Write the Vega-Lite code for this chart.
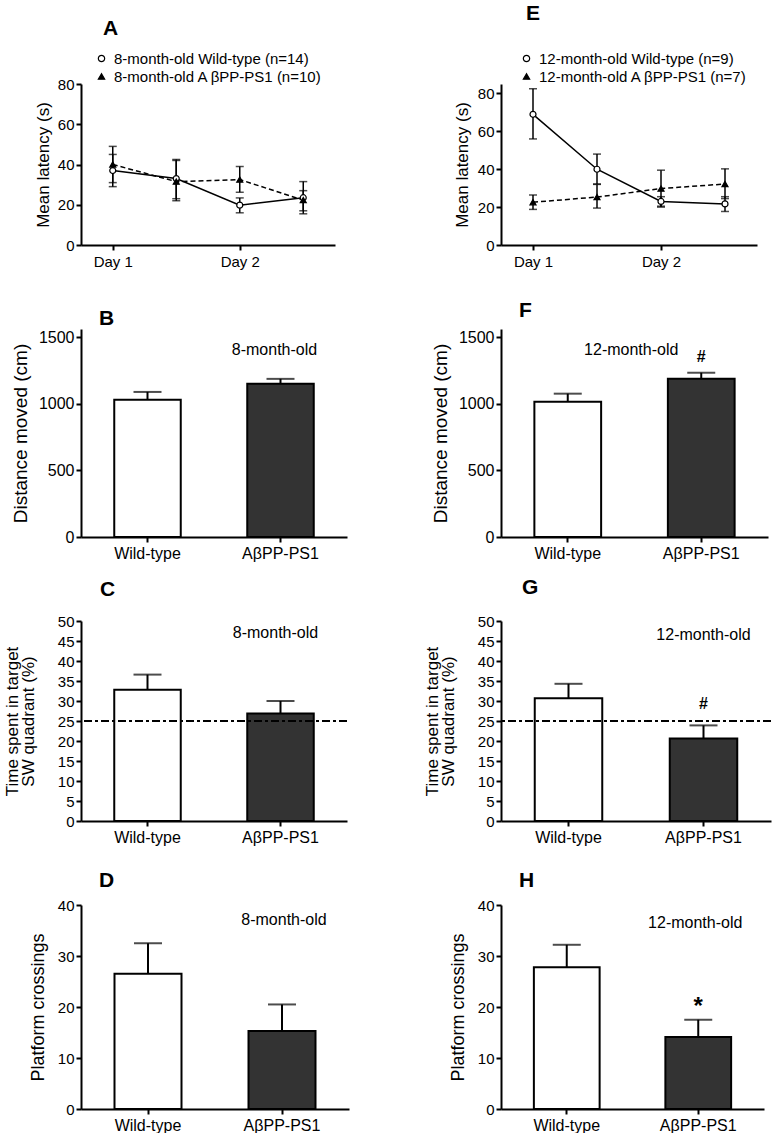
{
  "$schema": "https://vega.github.io/schema/vega-lite/v6.json",
  "background": "white",
  "padding": {"left": 3, "top": 3, "right": 0, "bottom": 0},
  "columns": 2,
  "bounds": "flush",
  "align": "each",
  "spacing": {"row": 84, "column": 152},
  "datasets": {
    "latency": [
      {"panel": "A", "group": "8-month-old Wild-type (n=14)", "day": 1, "mean": 37, "lo": 29, "hi": 45},
      {"panel": "A", "group": "8-month-old Wild-type (n=14)", "day": 1.5, "mean": 33, "lo": 23, "hi": 42.5},
      {"panel": "A", "group": "8-month-old Wild-type (n=14)", "day": 2, "mean": 19.8, "lo": 16, "hi": 23.4},
      {"panel": "A", "group": "8-month-old Wild-type (n=14)", "day": 2.5, "mean": 23.5, "lo": 15.5, "hi": 31.5},
      {"panel": "A", "group": "8-month-old A βPP-PS1 (n=10)", "day": 1, "mean": 40, "lo": 31, "hi": 49},
      {"panel": "A", "group": "8-month-old A βPP-PS1 (n=10)", "day": 1.5, "mean": 31.5, "lo": 22, "hi": 42},
      {"panel": "A", "group": "8-month-old A βPP-PS1 (n=10)", "day": 2, "mean": 32.5, "lo": 26.2, "hi": 39},
      {"panel": "A", "group": "8-month-old A βPP-PS1 (n=10)", "day": 2.5, "mean": 22.3, "lo": 17, "hi": 27},
      {"panel": "E", "group": "12-month-old Wild-type (n=9)", "day": 1, "mean": 69, "lo": 56, "hi": 82.5},
      {"panel": "E", "group": "12-month-old Wild-type (n=9)", "day": 1.5, "mean": 40, "lo": 32.2, "hi": 48},
      {"panel": "E", "group": "12-month-old Wild-type (n=9)", "day": 2, "mean": 23, "lo": 20.5, "hi": 25.5},
      {"panel": "E", "group": "12-month-old Wild-type (n=9)", "day": 2.5, "mean": 21.7, "lo": 17.7, "hi": 25.5},
      {"panel": "E", "group": "12-month-old A βPP-PS1 (n=7)", "day": 1, "mean": 22.6, "lo": 18.8, "hi": 26.4},
      {"panel": "E", "group": "12-month-old A βPP-PS1 (n=7)", "day": 1.5, "mean": 25.3, "lo": 19.5, "hi": 32},
      {"panel": "E", "group": "12-month-old A βPP-PS1 (n=7)", "day": 2, "mean": 29.8, "lo": 20, "hi": 39.5},
      {"panel": "E", "group": "12-month-old A βPP-PS1 (n=7)", "day": 2.5, "mean": 32.2, "lo": 24.5, "hi": 40.2}
    ],
    "bars": [
      {"panel": "B", "genotype": "Wild-type", "mean": 1030, "upper": 1088},
      {"panel": "B", "genotype": "AβPP-PS1", "mean": 1149, "upper": 1186},
      {"panel": "F", "genotype": "Wild-type", "mean": 1015, "upper": 1075},
      {"panel": "F", "genotype": "AβPP-PS1", "mean": 1186, "upper": 1232},
      {"panel": "C", "genotype": "Wild-type", "mean": 32.8, "upper": 36.6},
      {"panel": "C", "genotype": "AβPP-PS1", "mean": 26.9, "upper": 30},
      {"panel": "G", "genotype": "Wild-type", "mean": 30.7, "upper": 34.3},
      {"panel": "G", "genotype": "AβPP-PS1", "mean": 20.6, "upper": 23.9},
      {"panel": "D", "genotype": "Wild-type", "mean": 26.5, "upper": 32.5},
      {"panel": "D", "genotype": "AβPP-PS1", "mean": 15.3, "upper": 20.5},
      {"panel": "H", "genotype": "Wild-type", "mean": 27.8, "upper": 32.2},
      {"panel": "H", "genotype": "AβPP-PS1", "mean": 14.1, "upper": 17.5}
    ]
  },
  "concat": [
    {
      "width": 254, "height": 161,
      "title": {"text": "A", "offset": 12, "dx": 22},
      "data": {"name": "latency"},
      "transform": [{"filter": "datum.panel === 'A'"}],
      "encoding": {
        "x": {"field": "day", "type": "quantitative", "scale": {"domain": [0.75, 2.75], "nice": false, "zero": false}, "axis": {"values": [1, 2], "labelExpr": "'Day ' + datum.value", "title": null, "labelPadding": 4}}
      },
      "layer": [
        {"transform": [{"filter": "indexof(datum.group, 'Wild') >= 0"}],
         "mark": {"type": "line", "color": "black", "strokeWidth": 1.5},
         "encoding": {"y": {"field": "mean", "type": "quantitative", "scale": {"domain": [0, 80], "nice": false}, "axis": {"values": [0, 20, 40, 60, 80], "title": "Mean latency (s)", "titlePadding": 5}}}},
        {"transform": [{"filter": "indexof(datum.group, 'Wild') < 0"}],
         "mark": {"type": "line", "color": "black", "strokeWidth": 1.5, "strokeDash": [5, 3]},
         "encoding": {"y": {"field": "mean", "type": "quantitative", "scale": {"domain": [0, 80], "nice": false}, "axis": {"values": [0, 20, 40, 60, 80], "title": "Mean latency (s)", "titlePadding": 5}}}},
        {"mark": {"type": "rule", "color": "black", "strokeWidth": 1.5},
         "encoding": {"y": {"field": "lo", "type": "quantitative", "scale": {"domain": [0, 80], "nice": false}, "axis": {"values": [0, 20, 40, 60, 80], "title": "Mean latency (s)", "titlePadding": 5}}, "y2": {"field": "hi"}}},
        {"mark": {"type": "tick", "color": "black", "size": 8, "thickness": 1.5, "orient": "horizontal"},
         "encoding": {"y": {"field": "lo", "type": "quantitative", "scale": {"domain": [0, 80], "nice": false}, "axis": {"values": [0, 20, 40, 60, 80], "title": "Mean latency (s)", "titlePadding": 5}}}},
        {"mark": {"type": "tick", "color": "black", "size": 8, "thickness": 1.5, "orient": "horizontal"},
         "encoding": {"y": {"field": "hi", "type": "quantitative", "scale": {"domain": [0, 80], "nice": false}, "axis": {"values": [0, 20, 40, 60, 80], "title": "Mean latency (s)", "titlePadding": 5}}}},
        {"mark": {"type": "point", "filled": true, "strokeWidth": 1.2, "opacity": 1, "size": 36},
         "encoding": {
           "y": {"field": "mean", "type": "quantitative", "scale": {"domain": [0, 80], "nice": false}, "axis": {"values": [0, 20, 40, 60, 80], "title": "Mean latency (s)", "titlePadding": 5}},
           "shape": {"field": "group", "type": "nominal", "scale": {"domain": ["8-month-old Wild-type (n=14)", "8-month-old A βPP-PS1 (n=10)"], "range": ["circle", "triangle-up"]},
                     "legend": {"orient": "none", "legendX": 13, "legendY": -33, "title": null, "labelLimit": 400, "labelOffset": 5, "symbolSize": 40, "symbolStrokeWidth": 1.2}},
           "fill": {"field": "group", "type": "nominal", "scale": {"domain": ["8-month-old Wild-type (n=14)", "8-month-old A βPP-PS1 (n=10)"], "range": ["white", "black"]},
                    "legend": {"orient": "none", "legendX": 13, "legendY": -33, "title": null, "labelLimit": 400, "labelOffset": 5, "symbolSize": 40, "symbolStrokeWidth": 1.2}},
           "stroke": {"field": "group", "type": "nominal", "scale": {"domain": ["8-month-old Wild-type (n=14)", "8-month-old A βPP-PS1 (n=10)"], "range": ["black", "black"]},
                      "legend": {"orient": "none", "legendX": 13, "legendY": -33, "title": null, "labelLimit": 400, "labelOffset": 5, "symbolSize": 40, "symbolStrokeWidth": 1.2}}}}
      ]
    },
    {
      "width": 256, "height": 161,
      "title": {"text": "E", "offset": 27, "dx": 25},
      "data": {"name": "latency"},
      "transform": [{"filter": "datum.panel === 'E'"}],
      "encoding": {
        "x": {"field": "day", "type": "quantitative", "scale": {"domain": [0.75, 2.75], "nice": false, "zero": false}, "axis": {"values": [1, 2], "labelExpr": "'Day ' + datum.value", "title": null, "labelPadding": 4}}
      },
      "layer": [
        {"transform": [{"filter": "indexof(datum.group, 'Wild') >= 0"}],
         "mark": {"type": "line", "color": "black", "strokeWidth": 1.5},
         "encoding": {"y": {"field": "mean", "type": "quantitative", "scale": {"domain": [0, 85], "nice": false}, "axis": {"values": [0, 20, 40, 60, 80], "title": "Mean latency (s)", "titlePadding": 6}}}},
        {"transform": [{"filter": "indexof(datum.group, 'Wild') < 0"}],
         "mark": {"type": "line", "color": "black", "strokeWidth": 1.5, "strokeDash": [5, 3]},
         "encoding": {"y": {"field": "mean", "type": "quantitative", "scale": {"domain": [0, 85], "nice": false}, "axis": {"values": [0, 20, 40, 60, 80], "title": "Mean latency (s)", "titlePadding": 6}}}},
        {"mark": {"type": "rule", "color": "black", "strokeWidth": 1.5},
         "encoding": {"y": {"field": "lo", "type": "quantitative", "scale": {"domain": [0, 85], "nice": false}, "axis": {"values": [0, 20, 40, 60, 80], "title": "Mean latency (s)", "titlePadding": 6}}, "y2": {"field": "hi"}}},
        {"mark": {"type": "tick", "color": "black", "size": 8, "thickness": 1.5, "orient": "horizontal"},
         "encoding": {"y": {"field": "lo", "type": "quantitative", "scale": {"domain": [0, 85], "nice": false}, "axis": {"values": [0, 20, 40, 60, 80], "title": "Mean latency (s)", "titlePadding": 6}}}},
        {"mark": {"type": "tick", "color": "black", "size": 8, "thickness": 1.5, "orient": "horizontal"},
         "encoding": {"y": {"field": "hi", "type": "quantitative", "scale": {"domain": [0, 85], "nice": false}, "axis": {"values": [0, 20, 40, 60, 80], "title": "Mean latency (s)", "titlePadding": 6}}}},
        {"mark": {"type": "point", "filled": true, "strokeWidth": 1.2, "opacity": 1, "size": 36},
         "encoding": {
           "y": {"field": "mean", "type": "quantitative", "scale": {"domain": [0, 85], "nice": false}, "axis": {"values": [0, 20, 40, 60, 80], "title": "Mean latency (s)", "titlePadding": 6}},
           "shape": {"field": "group", "type": "nominal", "scale": {"domain": ["12-month-old Wild-type (n=9)", "12-month-old A βPP-PS1 (n=7)"], "range": ["circle", "triangle-up"]},
                     "legend": {"orient": "none", "legendX": 18, "legendY": -33, "title": null, "labelLimit": 400, "labelOffset": 5, "symbolSize": 40, "symbolStrokeWidth": 1.2}},
           "fill": {"field": "group", "type": "nominal", "scale": {"domain": ["12-month-old Wild-type (n=9)", "12-month-old A βPP-PS1 (n=7)"], "range": ["white", "black"]},
                    "legend": {"orient": "none", "legendX": 18, "legendY": -33, "title": null, "labelLimit": 400, "labelOffset": 5, "symbolSize": 40, "symbolStrokeWidth": 1.2}},
           "stroke": {"field": "group", "type": "nominal", "scale": {"domain": ["12-month-old Wild-type (n=9)", "12-month-old A βPP-PS1 (n=7)"], "range": ["black", "black"]},
                      "legend": {"orient": "none", "legendX": 18, "legendY": -33, "title": null, "labelLimit": 400, "labelOffset": 5, "symbolSize": 40, "symbolStrokeWidth": 1.2}}}}
      ]
    },
    {
      "width": 266, "height": 208,
      "title": {"text": "B", "offset": 0, "dx": 18},
      "data": {"name": "bars"},
      "transform": [{"filter": "datum.panel === 'B'"}],
      "encoding": {
        "x": {"field": "genotype", "type": "nominal", "sort": ["Wild-type", "AβPP-PS1"], "scale": {"domain": ["Wild-type", "AβPP-PS1"], "paddingInner": 0.5, "paddingOuter": 0.25}, "axis": {"title": null, "labelAngle": 0, "labelFontSize": 16, "labelPadding": 3, "bandPosition": 0.5}}
      },
      "layer": [
        {"mark": {"type": "bar", "stroke": "black", "strokeWidth": 2},
         "encoding": {
           "y": {"field": "mean", "type": "quantitative", "scale": {"domain": [0, 1560], "nice": false}, "axis": {"values": [0, 500, 1000, 1500], "format": "d", "title": "Distance moved (cm)", "titleFontSize": 19, "titlePadding": 8, "labelFontSize": 16}},
           "fill": {"field": "genotype", "type": "nominal", "scale": {"domain": ["Wild-type", "AβPP-PS1"], "range": ["white", "#333333"]}, "legend": null}}},
        {"mark": {"type": "rule", "color": "black", "strokeWidth": 2},
         "encoding": {"y": {"field": "mean", "type": "quantitative", "scale": {"domain": [0, 1560], "nice": false}, "axis": {"values": [0, 500, 1000, 1500], "format": "d", "title": "Distance moved (cm)", "titleFontSize": 19, "titlePadding": 8, "labelFontSize": 16}}, "y2": {"field": "upper"}}},
        {"mark": {"type": "tick", "color": "black", "size": 28, "thickness": 2, "orient": "horizontal"},
         "encoding": {"y": {"field": "upper", "type": "quantitative", "scale": {"domain": [0, 1560], "nice": false}, "axis": {"values": [0, 500, 1000, 1500], "format": "d", "title": "Distance moved (cm)", "titleFontSize": 19, "titlePadding": 8, "labelFontSize": 16}}}},
        {"transform": [{"filter": "datum.genotype === 'AβPP-PS1'"}],
         "mark": {"type": "text", "fontSize": 16, "fontWeight": "normal", "baseline": "middle", "dx": -6, "fill": "black"},
         "encoding": {"y": {"datum": 1400}, "text": {"value": "8-month-old"}}}
      ]
    },
    {
      "width": 267, "height": 208,
      "title": {"text": "F", "offset": 8, "dx": 18},
      "data": {"name": "bars"},
      "transform": [{"filter": "datum.panel === 'F'"}],
      "encoding": {
        "x": {"field": "genotype", "type": "nominal", "sort": ["Wild-type", "AβPP-PS1"], "scale": {"domain": ["Wild-type", "AβPP-PS1"], "paddingInner": 0.5, "paddingOuter": 0.25}, "axis": {"title": null, "labelAngle": 0, "labelFontSize": 16, "labelPadding": 3, "bandPosition": 0.5}}
      },
      "layer": [
        {"mark": {"type": "bar", "stroke": "black", "strokeWidth": 2},
         "encoding": {
           "y": {"field": "mean", "type": "quantitative", "scale": {"domain": [0, 1560], "nice": false}, "axis": {"values": [0, 500, 1000, 1500], "format": "d", "title": "Distance moved (cm)", "titleFontSize": 19, "titlePadding": 8, "labelFontSize": 16}},
           "fill": {"field": "genotype", "type": "nominal", "scale": {"domain": ["Wild-type", "AβPP-PS1"], "range": ["white", "#333333"]}, "legend": null}}},
        {"mark": {"type": "rule", "color": "black", "strokeWidth": 2},
         "encoding": {"y": {"field": "mean", "type": "quantitative", "scale": {"domain": [0, 1560], "nice": false}, "axis": {"values": [0, 500, 1000, 1500], "format": "d", "title": "Distance moved (cm)", "titleFontSize": 19, "titlePadding": 8, "labelFontSize": 16}}, "y2": {"field": "upper"}}},
        {"mark": {"type": "tick", "color": "black", "size": 28, "thickness": 2, "orient": "horizontal"},
         "encoding": {"y": {"field": "upper", "type": "quantitative", "scale": {"domain": [0, 1560], "nice": false}, "axis": {"values": [0, 500, 1000, 1500], "format": "d", "title": "Distance moved (cm)", "titleFontSize": 19, "titlePadding": 8, "labelFontSize": 16}}}},
        {"transform": [{"filter": "datum.genotype === 'AβPP-PS1'"}],
         "mark": {"type": "text", "fontSize": 16, "fontWeight": "normal", "baseline": "middle", "dx": -70, "fill": "black"},
         "encoding": {"y": {"datum": 1400}, "text": {"value": "12-month-old"}}},
        {"transform": [{"filter": "datum.genotype === 'AβPP-PS1'"}],
         "mark": {"type": "text", "fontSize": 16, "fontWeight": "bold", "baseline": "alphabetic", "fill": "black"},
         "encoding": {"y": {"datum": 1315}, "text": {"value": "#"}}}
      ]
    },
    {
      "width": 266, "height": 200,
      "title": {"text": "C", "offset": 14, "dx": 19},
      "data": {"name": "bars"},
      "transform": [{"filter": "datum.panel === 'C'"}],
      "layer": [
        {"mark": {"type": "bar", "stroke": "black", "strokeWidth": 2},
         "encoding": {
           "x": {"field": "genotype", "type": "nominal", "sort": ["Wild-type", "AβPP-PS1"], "scale": {"domain": ["Wild-type", "AβPP-PS1"], "paddingInner": 0.5, "paddingOuter": 0.25}, "axis": {"title": null, "labelAngle": 0, "labelFontSize": 16, "labelPadding": 3, "bandPosition": 0.5}},
           "y": {"field": "mean", "type": "quantitative", "scale": {"domain": [0, 50], "nice": false}, "axis": {"values": [0, 5, 10, 15, 20, 25, 30, 35, 40, 45, 50], "tickCount": 11, "labelOverlap": false, "title": ["Time spent in target", "SW quadrant (%)"], "titleLineHeight": 16, "titleFontSize": 17, "titlePadding": 20}},
           "fill": {"field": "genotype", "type": "nominal", "scale": {"domain": ["Wild-type", "AβPP-PS1"], "range": ["white", "#333333"]}, "legend": null}}},
        {"mark": {"type": "rule", "color": "black", "strokeWidth": 2},
         "encoding": {
           "x": {"field": "genotype", "type": "nominal", "sort": ["Wild-type", "AβPP-PS1"], "scale": {"domain": ["Wild-type", "AβPP-PS1"], "paddingInner": 0.5, "paddingOuter": 0.25}, "axis": {"title": null, "labelAngle": 0, "labelFontSize": 16, "labelPadding": 3, "bandPosition": 0.5}},
           "y": {"field": "mean", "type": "quantitative", "scale": {"domain": [0, 50], "nice": false}, "axis": {"values": [0, 5, 10, 15, 20, 25, 30, 35, 40, 45, 50], "tickCount": 11, "labelOverlap": false, "title": ["Time spent in target", "SW quadrant (%)"], "titleLineHeight": 16, "titleFontSize": 17, "titlePadding": 20}}, "y2": {"field": "upper"}}},
        {"mark": {"type": "tick", "color": "black", "size": 28, "thickness": 2, "orient": "horizontal"},
         "encoding": {
           "x": {"field": "genotype", "type": "nominal", "sort": ["Wild-type", "AβPP-PS1"], "scale": {"domain": ["Wild-type", "AβPP-PS1"], "paddingInner": 0.5, "paddingOuter": 0.25}, "axis": {"title": null, "labelAngle": 0, "labelFontSize": 16, "labelPadding": 3, "bandPosition": 0.5}},
           "y": {"field": "upper", "type": "quantitative", "scale": {"domain": [0, 50], "nice": false}, "axis": {"values": [0, 5, 10, 15, 20, 25, 30, 35, 40, 45, 50], "tickCount": 11, "labelOverlap": false, "title": ["Time spent in target", "SW quadrant (%)"], "titleLineHeight": 16, "titleFontSize": 17, "titlePadding": 20}}}},
        {"transform": [{"filter": "datum.genotype === 'AβPP-PS1'"}],
         "mark": {"type": "rule", "color": "black", "strokeWidth": 2, "strokeDash": [8, 3, 3, 3]},
         "encoding": {"y": {"datum": 25}}},
        {"transform": [{"filter": "datum.genotype === 'AβPP-PS1'"}],
         "mark": {"type": "text", "fontSize": 16, "fontWeight": "normal", "baseline": "middle", "dx": -5, "fill": "black"},
         "encoding": {
           "x": {"field": "genotype", "type": "nominal", "sort": ["Wild-type", "AβPP-PS1"], "scale": {"domain": ["Wild-type", "AβPP-PS1"], "paddingInner": 0.5, "paddingOuter": 0.25}, "axis": {"title": null, "labelAngle": 0, "labelFontSize": 16, "labelPadding": 3, "bandPosition": 0.5}},
           "y": {"datum": 47}, "text": {"value": "8-month-old"}}}
      ]
    },
    {
      "width": 270, "height": 200,
      "title": {"text": "G", "offset": 16, "dx": 21},
      "data": {"name": "bars"},
      "transform": [{"filter": "datum.panel === 'G'"}],
      "layer": [
        {"mark": {"type": "bar", "stroke": "black", "strokeWidth": 2},
         "encoding": {
           "x": {"field": "genotype", "type": "nominal", "sort": ["Wild-type", "AβPP-PS1"], "scale": {"domain": ["Wild-type", "AβPP-PS1"], "paddingInner": 0.5, "paddingOuter": 0.25}, "axis": {"title": null, "labelAngle": 0, "labelFontSize": 16, "labelPadding": 3, "bandPosition": 0.5}},
           "y": {"field": "mean", "type": "quantitative", "scale": {"domain": [0, 50], "nice": false}, "axis": {"values": [0, 5, 10, 15, 20, 25, 30, 35, 40, 45, 50], "tickCount": 11, "labelOverlap": false, "title": ["Time spent in target", "SW quadrant (%)"], "titleLineHeight": 16, "titleFontSize": 17, "titlePadding": 20}},
           "fill": {"field": "genotype", "type": "nominal", "scale": {"domain": ["Wild-type", "AβPP-PS1"], "range": ["white", "#333333"]}, "legend": null}}},
        {"mark": {"type": "rule", "color": "black", "strokeWidth": 2},
         "encoding": {
           "x": {"field": "genotype", "type": "nominal", "sort": ["Wild-type", "AβPP-PS1"], "scale": {"domain": ["Wild-type", "AβPP-PS1"], "paddingInner": 0.5, "paddingOuter": 0.25}, "axis": {"title": null, "labelAngle": 0, "labelFontSize": 16, "labelPadding": 3, "bandPosition": 0.5}},
           "y": {"field": "mean", "type": "quantitative", "scale": {"domain": [0, 50], "nice": false}, "axis": {"values": [0, 5, 10, 15, 20, 25, 30, 35, 40, 45, 50], "tickCount": 11, "labelOverlap": false, "title": ["Time spent in target", "SW quadrant (%)"], "titleLineHeight": 16, "titleFontSize": 17, "titlePadding": 20}}, "y2": {"field": "upper"}}},
        {"mark": {"type": "tick", "color": "black", "size": 28, "thickness": 2, "orient": "horizontal"},
         "encoding": {
           "x": {"field": "genotype", "type": "nominal", "sort": ["Wild-type", "AβPP-PS1"], "scale": {"domain": ["Wild-type", "AβPP-PS1"], "paddingInner": 0.5, "paddingOuter": 0.25}, "axis": {"title": null, "labelAngle": 0, "labelFontSize": 16, "labelPadding": 3, "bandPosition": 0.5}},
           "y": {"field": "upper", "type": "quantitative", "scale": {"domain": [0, 50], "nice": false}, "axis": {"values": [0, 5, 10, 15, 20, 25, 30, 35, 40, 45, 50], "tickCount": 11, "labelOverlap": false, "title": ["Time spent in target", "SW quadrant (%)"], "titleLineHeight": 16, "titleFontSize": 17, "titlePadding": 20}}}},
        {"transform": [{"filter": "datum.genotype === 'AβPP-PS1'"}],
         "mark": {"type": "rule", "color": "black", "strokeWidth": 2, "strokeDash": [8, 3, 3, 3]},
         "encoding": {"y": {"datum": 25}}},
        {"transform": [{"filter": "datum.genotype === 'AβPP-PS1'"}],
         "mark": {"type": "text", "fontSize": 16, "fontWeight": "normal", "baseline": "middle", "fill": "black"},
         "encoding": {
           "x": {"field": "genotype", "type": "nominal", "sort": ["Wild-type", "AβPP-PS1"], "scale": {"domain": ["Wild-type", "AβPP-PS1"], "paddingInner": 0.5, "paddingOuter": 0.25}, "axis": {"title": null, "labelAngle": 0, "labelFontSize": 16, "labelPadding": 3, "bandPosition": 0.5}},
           "y": {"datum": 46.5}, "text": {"value": "12-month-old"}}},
        {"transform": [{"filter": "datum.genotype === 'AβPP-PS1'"}],
         "mark": {"type": "text", "fontSize": 16, "fontWeight": "bold", "baseline": "alphabetic", "fill": "black"},
         "encoding": {
           "x": {"field": "genotype", "type": "nominal", "sort": ["Wild-type", "AβPP-PS1"], "scale": {"domain": ["Wild-type", "AβPP-PS1"], "paddingInner": 0.5, "paddingOuter": 0.25}, "axis": {"title": null, "labelAngle": 0, "labelFontSize": 16, "labelPadding": 3, "bandPosition": 0.5}},
           "y": {"datum": 28}, "text": {"value": "#"}}}
      ]
    },
    {
      "width": 268, "height": 204,
      "title": {"text": "D", "offset": 7, "dx": 18},
      "data": {"name": "bars"},
      "transform": [{"filter": "datum.panel === 'D'"}],
      "encoding": {
        "x": {"field": "genotype", "type": "nominal", "sort": ["Wild-type", "AβPP-PS1"], "scale": {"domain": ["Wild-type", "AβPP-PS1"], "paddingInner": 0.5, "paddingOuter": 0.25}, "axis": {"title": null, "labelAngle": 0, "labelFontSize": 16, "labelPadding": 3, "bandPosition": 0.5}}
      },
      "layer": [
        {"mark": {"type": "bar", "stroke": "black", "strokeWidth": 2},
         "encoding": {
           "y": {"field": "mean", "type": "quantitative", "scale": {"domain": [0, 40], "nice": false}, "axis": {"values": [0, 10, 20, 30, 40], "title": "Platform crossings", "titleFontSize": 18, "titlePadding": 10}},
           "fill": {"field": "genotype", "type": "nominal", "scale": {"domain": ["Wild-type", "AβPP-PS1"], "range": ["white", "#333333"]}, "legend": null}}},
        {"mark": {"type": "rule", "color": "black", "strokeWidth": 2},
         "encoding": {"y": {"field": "mean", "type": "quantitative", "scale": {"domain": [0, 40], "nice": false}, "axis": {"values": [0, 10, 20, 30, 40], "title": "Platform crossings", "titleFontSize": 18, "titlePadding": 10}}, "y2": {"field": "upper"}}},
        {"mark": {"type": "tick", "color": "black", "size": 28, "thickness": 2, "orient": "horizontal"},
         "encoding": {"y": {"field": "upper", "type": "quantitative", "scale": {"domain": [0, 40], "nice": false}, "axis": {"values": [0, 10, 20, 30, 40], "title": "Platform crossings", "titleFontSize": 18, "titlePadding": 10}}}},
        {"transform": [{"filter": "datum.genotype === 'AβPP-PS1'"}],
         "mark": {"type": "text", "fontSize": 16, "fontWeight": "normal", "baseline": "middle", "dx": 2, "fill": "black"},
         "encoding": {"y": {"datum": 37}, "text": {"value": "8-month-old"}}}
      ]
    },
    {
      "width": 263, "height": 204,
      "title": {"text": "H", "offset": 7, "dx": 18},
      "data": {"name": "bars"},
      "transform": [{"filter": "datum.panel === 'H'"}],
      "encoding": {
        "x": {"field": "genotype", "type": "nominal", "sort": ["Wild-type", "AβPP-PS1"], "scale": {"domain": ["Wild-type", "AβPP-PS1"], "paddingInner": 0.5, "paddingOuter": 0.25}, "axis": {"title": null, "labelAngle": 0, "labelFontSize": 16, "labelPadding": 3, "bandPosition": 0.5}}
      },
      "layer": [
        {"mark": {"type": "bar", "stroke": "black", "strokeWidth": 2},
         "encoding": {
           "y": {"field": "mean", "type": "quantitative", "scale": {"domain": [0, 40], "nice": false}, "axis": {"values": [0, 10, 20, 30, 40], "title": "Platform crossings", "titleFontSize": 18, "titlePadding": 10}},
           "fill": {"field": "genotype", "type": "nominal", "scale": {"domain": ["Wild-type", "AβPP-PS1"], "range": ["white", "#333333"]}, "legend": null}}},
        {"mark": {"type": "rule", "color": "black", "strokeWidth": 2},
         "encoding": {"y": {"field": "mean", "type": "quantitative", "scale": {"domain": [0, 40], "nice": false}, "axis": {"values": [0, 10, 20, 30, 40], "title": "Platform crossings", "titleFontSize": 18, "titlePadding": 10}}, "y2": {"field": "upper"}}},
        {"mark": {"type": "tick", "color": "black", "size": 28, "thickness": 2, "orient": "horizontal"},
         "encoding": {"y": {"field": "upper", "type": "quantitative", "scale": {"domain": [0, 40], "nice": false}, "axis": {"values": [0, 10, 20, 30, 40], "title": "Platform crossings", "titleFontSize": 18, "titlePadding": 10}}}},
        {"transform": [{"filter": "datum.genotype === 'AβPP-PS1'"}],
         "mark": {"type": "text", "fontSize": 16, "fontWeight": "normal", "baseline": "middle", "dx": -3, "fill": "black"},
         "encoding": {"y": {"datum": 36.5}, "text": {"value": "12-month-old"}}},
        {"transform": [{"filter": "datum.genotype === 'AβPP-PS1'"}],
         "mark": {"type": "text", "fontSize": 24, "fontWeight": "bold", "baseline": "alphabetic", "fill": "black"},
         "encoding": {"y": {"datum": 18.6}, "text": {"value": "*"}}}
      ]
    }
  ],
  "resolve": {
    "scale": {"x": "independent", "y": "independent", "fill": "independent", "shape": "independent", "stroke": "independent"},
    "legend": {"shape": "independent", "fill": "independent", "stroke": "independent"}
  },
  "config": {
    "font": "Liberation Sans",
    "view": {"stroke": null},
    "axis": {"grid": false, "domainColor": "black", "domainWidth": 2, "tickColor": "black", "tickWidth": 2, "tickSize": 5,
             "labelColor": "black", "labelFontSize": 15, "labelPadding": 2, "labelFont": "Liberation Sans",
             "titleColor": "black", "titleFontWeight": "normal", "titleFontSize": 17, "titleFont": "Liberation Sans"},
    "axisY": {"labelOverlap": false},
    "title": {"fontSize": 21, "fontWeight": "bold", "anchor": "start", "frame": "group", "color": "black", "baseline": "alphabetic", "font": "Liberation Sans"},
    "legend": {"labelFontSize": 15, "labelFont": "Liberation Sans", "labelColor": "black", "rowPadding": 2, "padding": 0}
  }
}
